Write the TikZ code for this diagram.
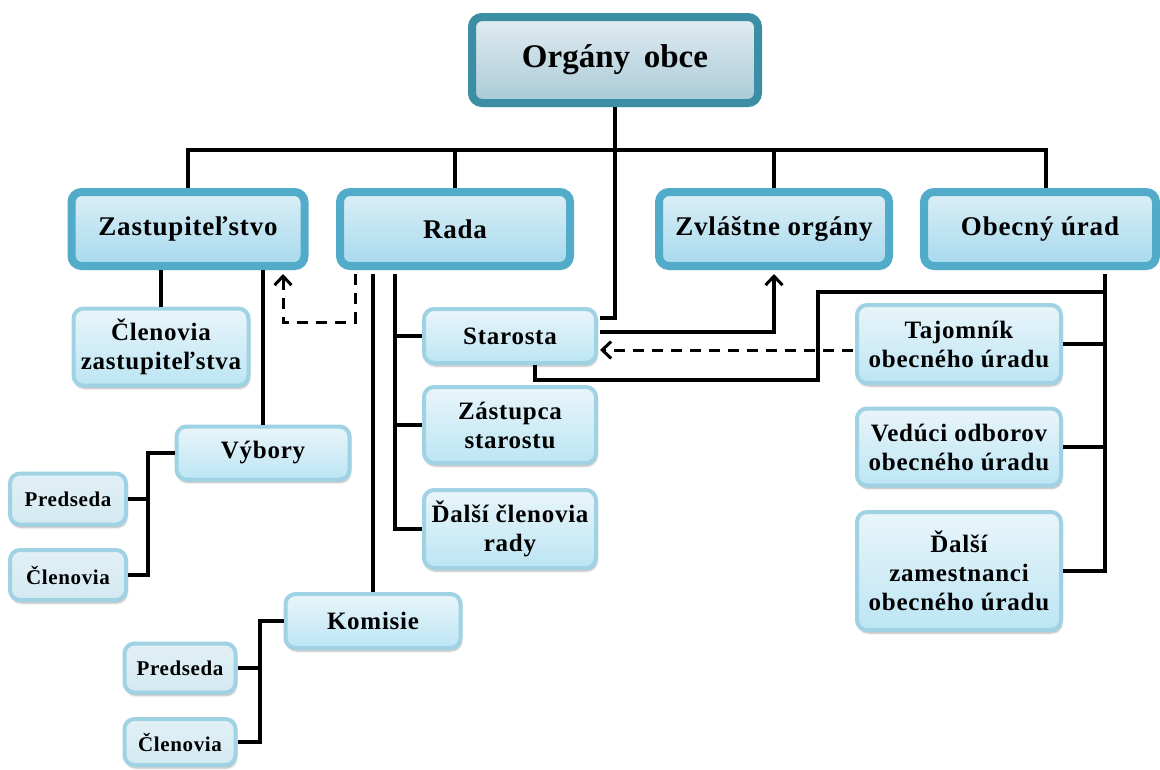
\documentclass[tikz,border=0pt]{standalone}
\usepackage{fontspec}
\setmainfont{Liberation Serif}
\usetikzlibrary{calc,arrows.meta,shadows.blur}

\definecolor{topedge}{HTML}{3B8EA3}
\definecolor{topfillA}{HTML}{E2ECF1}
\definecolor{topfillB}{HTML}{A8CAD7}
\definecolor{midedge}{HTML}{52ACC9}
\definecolor{midfillA}{HTML}{DCEFF7}
\definecolor{midfillB}{HTML}{A6D9ED}
\definecolor{lowedge}{HTML}{9FD3E3}
\definecolor{lowfillA}{HTML}{E9F5FA}
\definecolor{lowfillB}{HTML}{BCE5F4}
\definecolor{sidefillA}{HTML}{E2F0F6}
\definecolor{sidefillB}{HTML}{D3E9F2}

\newfontfamily\boxfont[LetterSpace=3]{Liberation Serif}

\tikzset{
  box/.style={rounded corners=10pt, align=center, inner sep=2pt,
    text=black,
    blur shadow={shadow xshift=1pt, shadow yshift=-3pt, shadow opacity=30, shadow blur steps=6}},
  topbox/.style={box, draw=topedge, line width=8pt, top color=topfillA, bottom color=topfillB,
    font=\fontsize{33}{38}\selectfont\bfseries},
  midbox/.style={box, draw=midedge, line width=8pt, top color=midfillA, bottom color=midfillB,
    font=\boxfont\fontsize{27}{30}\selectfont\bfseries},
  lowbox/.style={box, draw=lowedge, line width=4pt, top color=lowfillA, bottom color=lowfillB,
    font=\boxfont\fontsize{25}{29}\selectfont\bfseries},
  sidebox/.style={box, draw=lowedge, line width=4pt, top color=sidefillA, bottom color=sidefillB,
    font=\boxfont\fontsize{21}{24}\selectfont\bfseries},
  conn/.style={line width=4pt, black},
  dashconn/.style={line width=3pt, black, dash pattern=on 11pt off 8pt},
  tip/.style={-{Straight Barb[length=9pt,width=17pt,line width=3pt]}},
}

\begin{document}
\begin{tikzpicture}[x=1pt,y=-1pt]
\useasboundingbox (0,0) rectangle (1160,769);

% --- top level
\node[topbox, minimum width=286, minimum height=86] (top) at (615,60) {Orgány\, obce};

% --- second level
\node[midbox, minimum width=233, minimum height=74] (zast) at (188,229) {Zastupiteľstvo};
\node[midbox, minimum width=230, minimum height=74] (rada) at (455,229) {Rada};
\node[midbox, minimum width=230, minimum height=74] (zvl)  at (774,229) {Zvláštne orgány};
\node[midbox, minimum width=232, minimum height=74] (obec) at (1040,229) {Obecný úrad};

% --- under the council of representatives
\node[lowbox, minimum width=175, minimum height=77] (clz) at (161,347) {Členovia\\zastupiteľstva};
\node[lowbox, minimum width=173, minimum height=53] (vyb) at (263,453) {Výbory};
\node[sidebox, minimum width=116, minimum height=51] (pr1) at (68,499) {Predseda};
\node[sidebox, minimum width=116, minimum height=50] (cl1) at (68,575) {Členovia};

% --- under the board
\node[lowbox, minimum width=175, minimum height=54] (kom) at (373,621) {Komisie};
\node[sidebox, minimum width=111, minimum height=49] (pr2) at (180,668) {Predseda};
\node[sidebox, minimum width=111, minimum height=46] (cl2) at (180,742) {Členovia};
\node[lowbox, minimum width=172, minimum height=54] (sta) at (510,336) {Starosta};
\node[lowbox, minimum width=172, minimum height=76] (zas) at (510,425) {Zástupca\\starostu};
\node[lowbox, minimum width=172, minimum height=78] (dcr) at (510,529) {Ďalší členovia\\rady};

% --- under the municipal office
\node[lowbox, minimum width=204, minimum height=78] (taj) at (959,344) {Tajomník\\obecného úradu};
\node[lowbox, minimum width=204, minimum height=77] (ved) at (959,447) {Vedúci odborov\\obecného úradu};
\node[lowbox, minimum width=204, minimum height=118] (dza) at (959,571) {Ďalší\\zamestnanci\\obecného úradu};

% --- connectors
\coordinate (busL) at (188,150);
\coordinate (busR) at (1046,150);
\draw[conn] (top.south) -- (top.south |- busL);
\draw[conn] (zast.north) |- (busR) -- (busR |- obec.north);
\draw[conn] (rada.north) -- (rada.north |- busL);
\draw[conn] (zvl.north) -- (zvl.north |- busL);
\draw[conn] (top.south |- busL) |- ($(sta.east)+(2,-18)$);

\draw[conn] (clz.north) -- (clz.north |- zast.south);
\draw[conn] (vyb.north) -- (vyb.north |- zast.south);
\draw[conn] (vyb.west) -- ++(-27,0) coordinate (vk) |- (cl1.east);
\draw[conn] (pr1.east) -- (pr1.east -| vk);

\draw[dashconn,tip] ($(rada.south)+(-100,4)$) -- ++(0,48) -| ($(zast.south)+(95,4)$);

\draw[conn] ($(rada.south)+(-82,4)$) -- (kom.north);
\draw[conn] (kom.west) -- ++(-24,0) coordinate (kk) |- (cl2.east);
\draw[conn] (pr2.east) -- (pr2.east -| kk);

\draw[conn] ($(rada.south)+(-60,4)$) coordinate (rv) |- (dcr.west);
\draw[conn] (sta.west) -- (sta.west -| rv);
\draw[conn] (zas.west) -- (zas.west -| rv);

\draw[conn,tip] ($(sta.east)+(2,-4)$) -| ($(zvl.south)+(0,4)$);
\draw[dashconn,tip] ($(taj.west)+(-2,6)$) -- ($(sta.east)+(2,14)$);

\coordinate (ov) at ($(obec.south)+(65,4)$);
\draw[conn] (ov) |- (dza.east);
\draw[conn] (taj.east) -- (taj.east -| ov);
\draw[conn] (ved.east) -- (ved.east -| ov);
\draw[conn] ($(ov)+(0,18)$) -| ++(-287,88) -| ($(sta.south)+(25,0)$);
\end{tikzpicture}
\end{document}
